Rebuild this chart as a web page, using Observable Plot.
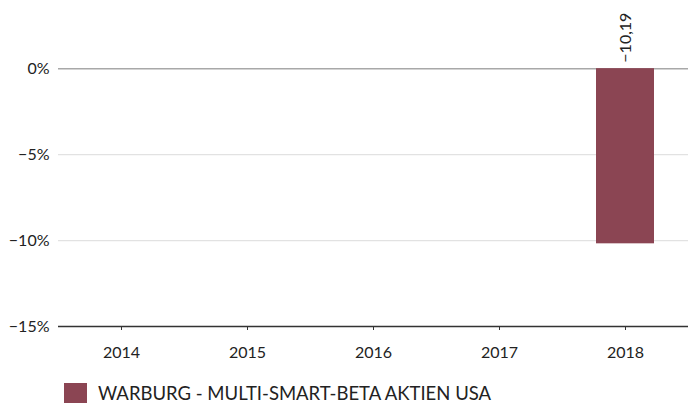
<!DOCTYPE html>
<html>
<head>
<meta charset="utf-8">
<script src="https://cdn.jsdelivr.net/npm/d3@7"></script>
<script src="https://cdn.jsdelivr.net/npm/@observablehq/plot@0.6"></script>
<style>
  body { margin: 0; background: #fff; font-family: Lato, "Open Sans", sans-serif; }
  #legend { display: flex; align-items: center; margin-left: 64px; margin-top: 12px; font-size: 18.5px; color: #222; }
  #legend .sw { width: 23px; height: 21px; background: #8b4553; margin-right: 11px; }
</style>
</head>
<body>
<div id="chart"></div>
<div id="legend"><div class="sw"></div><span id="lname"></span></div>
<script>
const years = ["2014", "2015", "2016", "2017", "2018"];
const values = [null, null, null, null, -10.19];
const seriesName = "WARBURG - MULTI-SMART-BETA AKTIEN USA";
const yTicks = [0, -5, -10, -15];

const data = years.map((y, i) => ({year: y, value: values[i]})).filter(d => d.value != null);
const fmtPct = d => (d < 0 ? "\u2212" : "") + Math.abs(d) + "%";
const fmtLabel = d => (d < 0 ? "\u2212" : "") + Math.abs(d).toFixed(2).replace(".", ",");

const chart = Plot.plot({
  width: 689,
  height: 370,
  marginTop: 8,
  marginLeft: 58,
  marginRight: 1,
  marginBottom: 44,
  style: {fontFamily: "Lato, 'Open Sans', sans-serif", fontSize: "16px", color: "#222"},
  x: {type: "band", domain: years, paddingInner: 0.54, paddingOuter: 0.27, label: null},
  y: {domain: [-15, 3.5], label: null},
  marks: [
    Plot.ruleY([-5, -10], {stroke: "#e2e2e2", strokeWidth: 1.2}),
    Plot.ruleY([0], {stroke: "#a8a8a8", strokeWidth: 1.5}),
    Plot.barY(data, {x: "year", y1: 0, y2: "value", fill: "#8b4553"}),
    Plot.ruleY([-15], {stroke: "#333", strokeWidth: 1.5}),
    Plot.axisY({ticks: yTicks, tickSize: 0, tickPadding: 9, tickFormat: fmtPct, fontSize: 16}),
    Plot.axisX({tickSize: 4, tickPadding: 16, fontSize: 16, stroke: "#333"}),
    Plot.text(data, {x: "year", y: 0, text: d => fmtLabel(d.value), rotate: -90, textAnchor: "start", dy: -6, fontSize: 16, fill: "#222"})
  ]
});
document.getElementById("chart").appendChild(chart);
document.getElementById("lname").textContent = seriesName;
</script>
</body>
</html>
